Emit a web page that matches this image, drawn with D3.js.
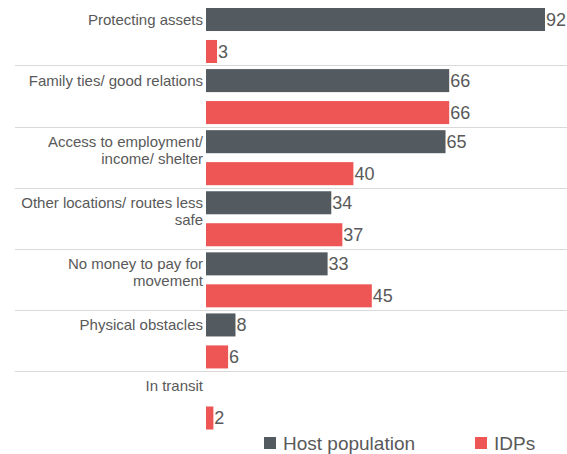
<!DOCTYPE html>
<meta charset="utf-8">
<script src="https://d3js.org/d3.v7.min.js"></script>
<style>
  body { margin: 0; background: #fff; }
  text { font-family: "Liberation Sans", Arial, sans-serif; fill: #595959; }
</style>
<div id="chart"></div>
<script>
  // data
  var categories = [
    ["Protecting assets"],
    ["Family ties/ good relations"],
    ["Access to employment/", "income/ shelter"],
    ["Other locations/ routes less", "safe"],
    ["No money to pay for", "movement"],
    ["Physical obstacles"],
    ["In transit"]
  ];
  var hostValues = [92, 66, 65, 34, 33, 8, null];
  var idpValues = [3, 66, 40, 37, 45, 6, 2];
  var seriesNames = ["Host population", "IDPs"];
  var seriesColors = ["#535a60", "#ee5555"];

  var width = 567, height = 454;
  var left = 206;

  var svg = d3.select("#chart").append("svg")
      .attr("width", width)
      .attr("height", height);

  var y = d3.scaleBand()
      .domain(d3.range(categories.length))
      .range([4.4, 432])
      .padding(0);

  var sub = d3.scaleBand()
      .domain([0, 1])
      .range([3.6, 58.6])
      .paddingInner(0.28);

  var x = d3.scaleLinear()
      .domain([0, 92])
      .range([left, 545]);

  // separator lines
  svg.append("g")
    .selectAll("line")
    .data(d3.range(1, categories.length))
    .enter()
    .append("line")
      .attr("x1", 15)
      .attr("x2", width)
      .attr("y1", function(d) { return Math.round(y(d)) + 0.5; })
      .attr("y2", function(d) { return Math.round(y(d)) + 0.5; })
      .style("stroke", "#d9d9d9")
      .style("stroke-width", 1);

  var rows = [];
  categories.forEach(function(c, i) {
    rows.push({ cat: i, s: 0, v: hostValues[i] });
    rows.push({ cat: i, s: 1, v: idpValues[i] });
  });
  rows = rows.filter(function(d) { return d.v != null; });

  // bars
  svg.append("g")
    .selectAll("rect")
    .data(rows)
    .enter()
    .append("rect")
      .attr("x", x(0))
      .attr("y", function(d) { return y(d.cat) + sub(d.s); })
      .attr("width", function(d) { return x(d.v) - x(0); })
      .attr("height", sub.bandwidth())
      .style("fill", function(d) { return seriesColors[d.s]; });

  // value labels
  svg.append("g")
    .selectAll("text")
    .data(rows)
    .enter()
    .append("text")
      .attr("x", function(d) { return x(d.v) + 1; })
      .attr("y", function(d) { return y(d.cat) + sub(d.s) + sub.bandwidth() / 2; })
      .attr("dy", "0.36em")
      .style("font-size", "18px")
      .text(function(d) { return d.v; });

  // category labels
  var labels = svg.append("g")
    .selectAll("text")
    .data(categories)
    .enter()
    .append("text")
      .attr("text-anchor", "end")
      .attr("x", 203)
      .attr("y", function(d, i) { return y(i) + sub(0) + sub.bandwidth() / 2; })
      .style("font-size", "15px");
  labels.selectAll("tspan")
    .data(function(d) { return d; })
    .enter()
    .append("tspan")
      .attr("x", 203)
      .attr("dy", function(d, i) { return i === 0 ? "0.36em" : "17px"; })
      .text(function(d) { return d; });

  // legend
  var legend = svg.append("g");
  var legendX = [264, 475];
  seriesNames.forEach(function(name, i) {
    legend.append("rect")
      .attr("x", legendX[i])
      .attr("y", 437)
      .attr("width", 12)
      .attr("height", 12)
      .style("fill", seriesColors[i]);
    legend.append("text")
      .attr("x", legendX[i] + 19)
      .attr("y", 443)
      .attr("dy", "0.36em")
      .style("font-size", "19px")
      .text(name);
  });
</script>
